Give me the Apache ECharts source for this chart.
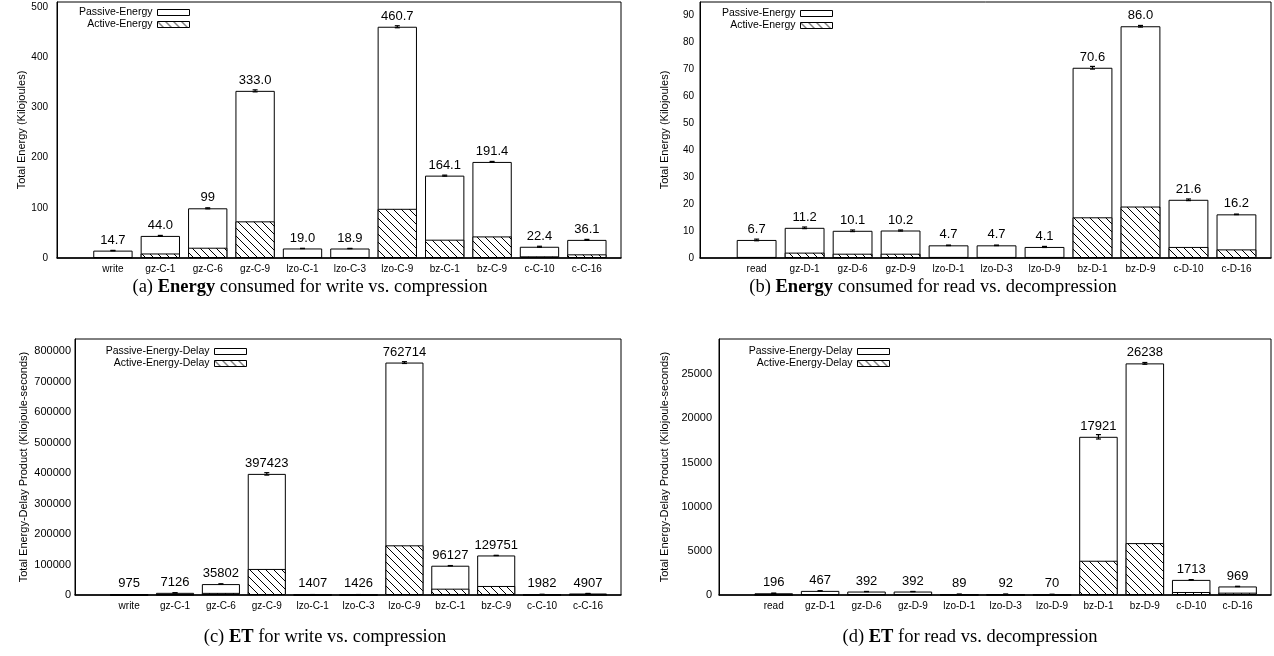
<!DOCTYPE html>
<html><head><meta charset="utf-8">
<script src="https://cdn.jsdelivr.net/npm/echarts@6/dist/echarts.min.js"></script>
<style>html,body{margin:0;padding:0;background:#fff}#c{width:1274px;height:656px}</style>
</head><body><div id="c"></div>
<script>
// ---------- data ----------
const catsA = ['write','gz-C-1','gz-C-6','gz-C-9','lzo-C-1','lzo-C-3','lzo-C-9','bz-C-1','bz-C-9','c-C-10','c-C-16'];
const totalA = [14.7, 44.0, 99, 333.0, 19.0, 18.9, 460.7, 164.1, 191.4, 22.4, 36.1];
const activeA = [1.5, 9, 20.5, 73, 2, 2, 98, 36.5, 43, 3.3, 7.3];
const errA = [0.5, 1, 1, 2, 0.3, 0.3, 2, 1, 1, 1, 1];
const labelsA = ['14.7','44.0','99','333.0','19.0','18.9','460.7','164.1','191.4','22.4','36.1'];
const yTicksA = [0, 100, 200, 300, 400, 500];

const catsB = ['read','gz-D-1','gz-D-6','gz-D-9','lzo-D-1','lzo-D-3','lzo-D-9','bz-D-1','bz-D-9','c-D-10','c-D-16'];
const totalB = [6.7, 11.2, 10.1, 10.2, 4.7, 4.7, 4.1, 70.6, 86.0, 21.6, 16.2];
const activeB = [0.4, 2.0, 1.6, 1.6, 0.4, 0.4, 0.4, 15.1, 19.1, 4.1, 3.2];
const errB = [0.3, 0.3, 0.3, 0.2, 0.1, 0.1, 0.2, 0.5, 0.3, 0.3, 0.1];
const labelsB = ['6.7','11.2','10.1','10.2','4.7','4.7','4.1','70.6','86.0','21.6','16.2'];
const yTicksB = [0, 10, 20, 30, 40, 50, 60, 70, 80, 90];

const catsC = catsA;
const totalC = [975, 7126, 35802, 397423, 1407, 1426, 762714, 96127, 129751, 1982, 4907];
const activeC = [200, 1500, 7000, 85500, 300, 300, 163000, 20800, 29600, 400, 1000];
const errC = [100, 300, 1000, 4000, 100, 100, 3000, 500, 500, 100, 200];
const labelsC = ['975','7126','35802','397423','1407','1426','762714','96127','129751','1982','4907'];
const yTicksC = [0, 100000, 200000, 300000, 400000, 500000, 600000, 700000, 800000];

const catsD = catsB;
const totalD = [196, 467, 392, 392, 89, 92, 70, 17921, 26238, 1713, 969];
const activeD = [20, 80, 70, 70, 15, 15, 15, 3880, 5880, 340, 265];
const errD = [10, 10, 10, 10, 5, 5, 5, 250, 100, 30, 20];
const labelsD = ['196','467','392','392','89','92','70','17921','26238','1713','969'];
const yTicksD = [0, 5000, 10000, 15000, 20000, 25000];

// ---------- style ----------
const SANS = "'Liberation Sans', Arial, Helvetica, sans-serif";
const SERIF = "'Liberation Serif', 'Times New Roman', Times, serif";
const XMIN = -1.18, XMAX = 10.72;

function hatchCanvas() {
  const c = document.createElement('canvas');
  c.width = 8; c.height = 8;
  const g = c.getContext('2d');
  g.fillStyle = '#fff'; g.fillRect(0, 0, 8, 8);
  g.strokeStyle = '#000'; g.lineWidth = 1;
  g.beginPath();
  g.moveTo(0, 0); g.lineTo(8, 8);
  g.moveTo(-1, 7); g.lineTo(1, 9);
  g.moveTo(7, -1); g.lineTo(9, 1);
  g.stroke();
  return c;
}
const HATCH = { image: hatchCanvas(), repeat: 'repeat' };

const grid = [], xAxis = [], yAxis = [], series = [], legend = [];

function panel(idx, geo, cats, total, active, err, labels, yMax, yTicks, yName, names) {
  grid.push({ left: geo.l, top: geo.t, width: geo.r - geo.l, height: geo.b - geo.t,
    show: true, borderColor: '#000', borderWidth: 1, backgroundColor: 'transparent' });
  const bw = 0.83 * (geo.r - geo.l) / (XMAX - XMIN);
  xAxis.push({ gridIndex: idx, type: 'value', min: XMIN, max: XMAX,
    axisLine: { show: true, onZero: false, lineStyle: { color: '#000', width: 1.5 } },
    axisTick: { show: false }, splitLine: { show: false },
    axisLabel: { customValues: cats.map((_, i) => i), formatter: v => cats[Math.round(v)],
      fontSize: 10, color: '#000', margin: geo.xm, fontFamily: SANS } });
  yAxis.push({ gridIndex: idx, type: 'value', min: 0, max: yMax,
    axisLine: { show: true, onZero: false, lineStyle: { color: '#000', width: 1 } },
    axisTick: { show: false }, splitLine: { show: false },
    axisLabel: { customValues: yTicks, formatter: v => String(v), fontSize: geo.yf, color: '#000',
      margin: geo.lm, fontFamily: SANS },
    name: yName, nameLocation: 'middle', nameGap: geo.ng,
    nameTextStyle: { fontSize: 11, color: '#000', fontFamily: SANS } });
  series.push({ type: 'bar', name: names[0], xAxisIndex: idx, yAxisIndex: idx,
    barWidth: bw, barGap: '-100%',
    itemStyle: { color: '#fff', borderColor: '#000', borderWidth: 1 },
    label: { show: true, position: 'top', distance: 4, formatter: p => labels[p.dataIndex],
      fontSize: 13, color: '#000', fontFamily: SANS },
    data: total.map((v, i) => [i, v]), z: 2, animation: false });
  series.push({ type: 'bar', name: names[1], xAxisIndex: idx, yAxisIndex: idx,
    barWidth: bw, barGap: '-100%',
    itemStyle: { color: HATCH, borderColor: '#000', borderWidth: 1 },
    data: active.map((v, i) => [i, v]), z: 3, animation: false });
  series.push({ type: 'custom', xAxisIndex: idx, yAxisIndex: idx, z: 4, silent: true,
    data: total.map((v, i) => [i, v, err[i]]), animation: false,
    renderItem: (params, api) => {
      const x = api.value(0), y = api.value(1), e = api.value(2);
      const hi = api.coord([x, y + e]), lo = api.coord([x, y - e]);
      const hw = 2.5, st = { stroke: '#000', lineWidth: 1.2 };
      return { type: 'group', children: [
        { type: 'line', shape: { x1: hi[0], y1: hi[1], x2: lo[0], y2: lo[1] }, style: st },
        { type: 'line', shape: { x1: hi[0] - hw, y1: hi[1], x2: hi[0] + hw, y2: hi[1] }, style: st },
        { type: 'line', shape: { x1: lo[0] - hw, y1: lo[1], x2: lo[0] + hw, y2: lo[1] }, style: st }
      ] };
    } });
  legend.push({ orient: 'vertical', align: 'right', selectedMode: false, icon: 'rect',
    right: 1274 - geo.legR, top: geo.legT, itemWidth: 32, itemHeight: 6, itemGap: 1, padding: 0,
    itemStyle: { borderWidth: 1, borderColor: '#000' },
    textStyle: { fontSize: 10.5, color: '#000', fontFamily: SANS, lineHeight: 10 },
    data: names });
}

panel(0, { l: 57, r: 621, t: 2, b: 258, xm: 6, lm: 9, ng: 29, legR: 190, legT: 7, yf: 10 },
  catsA, totalA, activeA, errA, labelsA, 510, yTicksA, 'Total Energy (Kilojoules)',
  ['Passive-Energy', 'Active-Energy']);
panel(1, { l: 700, r: 1271, t: 2, b: 258, xm: 6, lm: 6, ng: 30, legR: 833, legT: 8, yf: 10 },
  catsB, totalB, activeB, errB, labelsB, 95, yTicksB, 'Total Energy (Kilojoules)',
  ['Passive-Energy', 'Active-Energy']);
panel(2, { l: 75, r: 621, t: 339, b: 595, xm: 6, lm: 4, ng: 46, legR: 247, legT: 346, yf: 11 },
  catsC, totalC, activeC, errC, labelsC, 840000, yTicksC, 'Total Energy-Delay Product (Kilojoule-seconds)',
  ['Passive-Energy-Delay', 'Active-Energy-Delay']);
panel(3, { l: 719, r: 1271, t: 339, b: 595, xm: 6, lm: 7, ng: 49, legR: 890, legT: 346, yf: 11 },
  catsD, totalD, activeD, errD, labelsD, 29000, yTicksD, 'Total Energy-Delay Product (Kilojoule-seconds)',
  ['Passive-Energy-Delay', 'Active-Energy-Delay']);

function caption(x, y, text) {
  return { type: 'text', x: x, y: y, style: { text: text, fontSize: 18.5, fontFamily: SERIF,
    fill: '#000', align: 'center', verticalAlign: 'middle',
    rich: { b: { fontWeight: 'bold', fontSize: 18.5, fontFamily: SERIF, fill: '#000' } } } };
}

const chart = echarts.init(document.getElementById('c'), null, { renderer: 'canvas' });
chart.setOption({
  animation: false,
  backgroundColor: '#fff',
  grid, xAxis, yAxis, series, legend,
  graphic: [
    caption(310, 287, '(a) {b|Energy} consumed for write vs. compression'),
    caption(933, 287, '(b) {b|Energy} consumed for read vs. decompression'),
    caption(325, 637, '(c) {b|ET} for write vs. compression'),
    caption(970, 637, '(d) {b|ET} for read vs. decompression')
  ]
});
</script>
</body></html>
